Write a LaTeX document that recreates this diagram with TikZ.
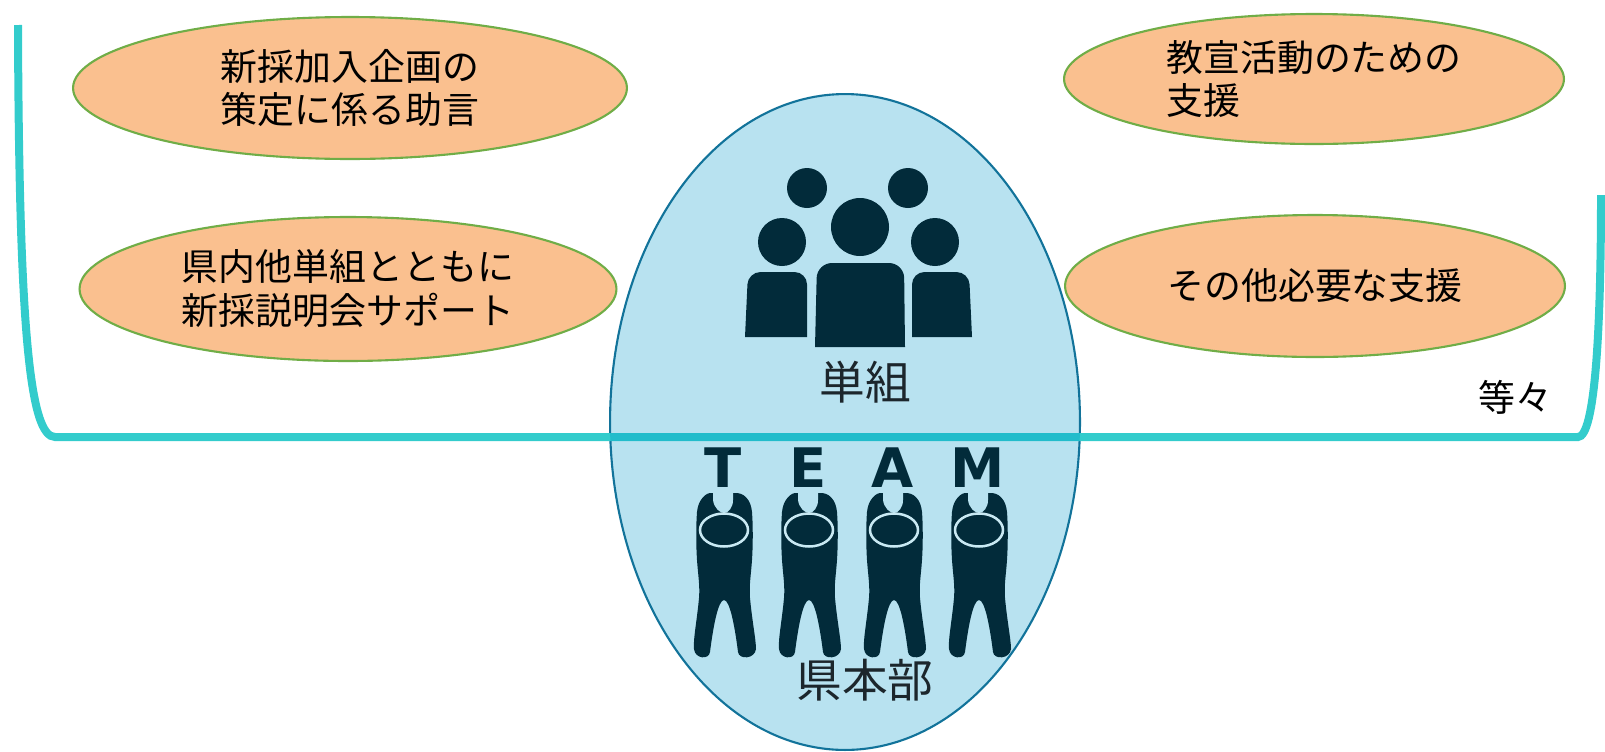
\documentclass[tikz,border=0pt]{standalone}
\usepackage{fontspec}
\newfontfamily\jp{Noto Sans CJK JP}
\newfontfamily\teamfont{DejaVu Sans}
\usetikzlibrary{shapes.geometric}

\definecolor{taskfill}{HTML}{FAC08F}
\definecolor{taskline}{HTML}{70AD47}
\definecolor{unionfill}{HTML}{B8E2F0}
\definecolor{unionline}{HTML}{12739A}
\definecolor{bracket}{HTML}{33CCCC}
\definecolor{bracketin}{HTML}{22BCCB}
\definecolor{icon}{HTML}{022B3A}
\definecolor{ring}{HTML}{C9E9F3}
\definecolor{unittext}{HTML}{1C262C}

\begin{document}
\begin{tikzpicture}[
  x=0.02cm, y=-0.02cm,
  task/.style={ellipse, draw=taskline, line width=1.2pt, fill=taskfill, inner sep=0pt, align=center, font=\jp\fontsize{21}{25}\selectfont},
  unitname/.style={font=\jp\fontsize{26}{30}\selectfont, text=unittext},
  letter/.style={font=\teamfont\bfseries\fontsize{31}{31}\selectfont, text=icon}
]
\useasboundingbox (0,0) rectangle (1605,751);

% Support items
\node[task, minimum width=11.08cm, minimum height=2.84cm] (advice) at (350,88) {新採加入企画の\\策定に係る助言};
\node[task, minimum width=10.74cm, minimum height=2.88cm] (briefing) at (348,289) {県内他単組とともに\\新採説明会サポート};
\node[task, align=left, minimum width=10cm, minimum height=2.6cm] (promo) at (1314,79) {教宣活動のための\\支援};
\node[task, minimum width=10cm, minimum height=2.84cm] (other) at (1315,286) {その他必要な支援};
\node[font=\jp\fontsize{21}{25}\selectfont] (etc) at (1515,397) {等々};

% Union and prefecture HQ
\node[ellipse, draw=unionline, fill=unionfill, line width=1.2pt, minimum width=9.4cm, minimum height=13.12cm] (union) at (845,422) {};

% Bracket around the support items
\draw[bracket, line width=0.16cm] (18,25) .. controls (19,330) and (30,437) .. (55,437) -- (1578,437) .. controls (1595,437) and (1601,330) .. (1601,195);
\begin{scope}
  \clip (845,422) ellipse [x radius=235, y radius=328];
  \draw[bracketin, line width=0.16cm] (560,437) -- (1120,437);
\end{scope}

% Group icon
\fill[icon] (807,188) circle [radius=20];
\fill[icon] (908,188) circle [radius=20];
\fill[icon] (782,242) circle [radius=24];
\fill[icon] (935,242) circle [radius=24];
\fill[icon] (860,227) circle [radius=29];
\fill[icon, rounded corners=0.25cm] (745,337) -- (748,272) -- (807,272) [sharp corners] -- (807,337) -- cycle;
\fill[icon, rounded corners=0.3cm] (815,347) -- (817,263) -- (904,263) [sharp corners] -- (905,347) -- cycle;
\fill[icon] (912,337) [rounded corners=0.25cm] -- (912,272) -- (969,272) [sharp corners] -- (972,337) -- cycle;
\node[unitname] (unit) at (865,382) {単組};

% TEAM figures
\foreach \x/\ch in {724/T, 809/E, 894/A, 979/M} {
  \node[letter] (team\ch) at (\x-1,468) {\ch};
  \begin{scope}[shift={(\x,530)}]
    \fill[icon] (-12,-37) .. controls (-18,-38) and (-26,-30) .. (-27,-18)
      .. controls (-28,-5) and (-28,15) .. (-27,30)
      .. controls (-26,45) and (-24,55) .. (-25,68)
      .. controls (-27,90) and (-31,110) .. (-30,119)
      .. controls (-29,129) and (-15,130) .. (-14,122)
      .. controls (-11,98) and (-6,70) .. (0,70)
      .. controls (6,70) and (11,98) .. (14,122)
      .. controls (15,130) and (31,129) .. (32,119)
      .. controls (32,110) and (28,90) .. (26,68)
      .. controls (25,55) and (27,45) .. (28,30)
      .. controls (29,15) and (29,-5) .. (28,-18)
      .. controls (27,-30) and (20,-38) .. (10,-37) -- cycle;
    \fill[unionfill] (-11,-38) -- (-11,-30) .. controls (-10,-22) and (-4,-17) .. (0,-17)
      .. controls (4,-17) and (9,-22) .. (9,-30) -- (9,-38) -- cycle;
    \draw[ring, line width=0.05cm, fill=icon] (0,0) ellipse [x radius=24, y radius=16.5];
  \end{scope}
}
\node[unitname] (hq) at (865,680) {県本部};

\end{tikzpicture}
\end{document}
